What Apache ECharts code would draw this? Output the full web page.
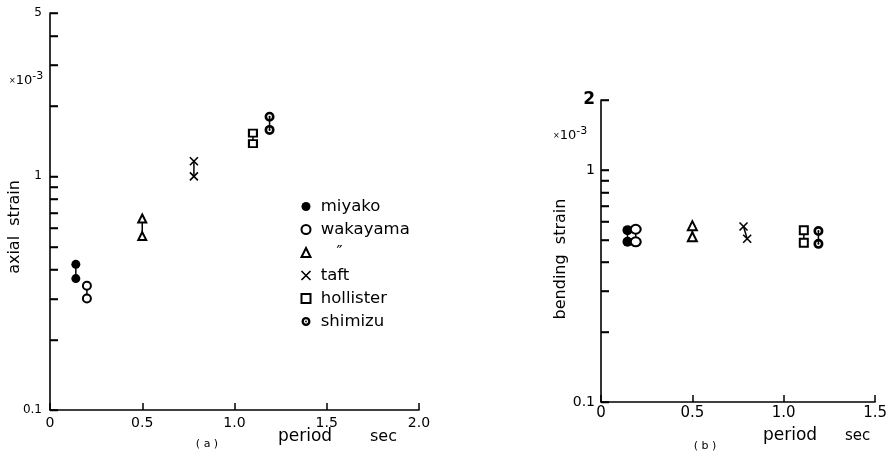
<!DOCTYPE html>
<html>
<head>
<meta charset="utf-8">
<script src="https://cdn.jsdelivr.net/npm/echarts@6/dist/echarts.min.js"></script>
<style>
  html, body { margin: 0; padding: 0; background: #fff; }
  #chart { width: 890px; height: 457px; }
</style>
</head>
<body>
<div id="chart"></div>
<script>
// Records: each station has two peak values (upper / lower) joined by a short bar.
const stations = ['miyako', 'wakayama', '   \u2033', 'taft', 'hollister', 'shimizu'];

// (a) axial strain (×10^-3) against natural period (sec)
const axialPeriod = [0.14, 0.2, 0.5, 0.78, 1.1, 1.19];
const axialUpper  = [0.42, 0.34, 0.66, 1.16, 1.53, 1.80];
const axialLower  = [0.365, 0.30, 0.555, 1.0, 1.38, 1.58];

// (b) bending strain (×10^-3) against natural period (sec)
const bendPeriodUpper = [0.145, 0.19, 0.5, 0.78, 1.11, 1.19];
const bendPeriodLower = [0.145, 0.19, 0.5, 0.80, 1.11, 1.19];
const bendUpper = [0.55, 0.555, 0.575, 0.57, 0.55, 0.545];
const bendLower = [0.49, 0.49, 0.515, 0.505, 0.485, 0.48];

// Axis ticks and labels
const strainTicksA  = [0.1, 0.2, 0.3, 0.4, 0.5, 0.6, 0.7, 0.8, 0.9, 1, 2, 3, 4, 5];
const strainLabelsA = [0.1, 1, 5];
const strainTicksB  = [0.1, 0.2, 0.3, 0.4, 0.5, 0.6, 0.7, 0.8, 0.9, 1, 2];
const strainLabelsB = [0.1, 1, 2];

const FONT = 'DejaVu Sans';
const INK = '#000';

const crossPath = 'path://M0,0L10,10M10,0L0,10';
const dotPath = 'path://M0,5A5,5 0 1,1 10,5A5,5 0 1,1 0,5Z' +
                'M2.6,5A2.4,2.4 0 1,0 7.4,5A2.4,2.4 0 1,0 2.6,5Z' +
                'M4,5A1,1 0 1,1 6,5A1,1 0 1,1 4,5Z';
const symbols = ['circle', 'emptyCircle', 'emptyTriangle', crossPath, 'emptyRect', dotPath];
const sizesA = [9, 8, 8, 8, [8, 7], 10];
const sizesB = [10, [10, 9], 9, 8, [8, 8], 10];

function itemStyleFor(i) {
  if (i === 0) return { color: INK, borderWidth: 0 };
  if (i === 3) return { color: 'none', borderColor: INK, borderWidth: 1.6 };
  if (i === 5) return { color: INK, borderWidth: 0 };
  return { color: INK, borderColor: INK, borderWidth: 1.4 };
}

function pairSeries(gridIdx, xs1, xs2, ys1, ys2, sizes) {
  return stations.map((name, i) => ({
    name: name,
    type: 'line',
    xAxisIndex: gridIdx,
    yAxisIndex: gridIdx,
    data: [[xs1[i], ys1[i]], [xs2[i], ys2[i]]],
    symbol: symbols[i],
    symbolSize: sizes[i],
    showSymbol: true,
    clip: false,
    lineStyle: { color: INK, width: 1.5 },
    itemStyle: itemStyleFor(i),
    emphasis: { disabled: true },
    animation: false,
    z: 3
  }));
}

// Inward ticks on the log strain axis: one compound path, each tick placed through the axis scale
function strainTickSeries(gridIdx, ticks) {
  return {
    type: 'custom',
    xAxisIndex: gridIdx,
    yAxisIndex: gridIdx,
    silent: true,
    clip: false,
    animation: false,
    data: [[0, ticks[0]]],
    renderItem: (params, api) => {
      let d = '';
      ticks.forEach(v => {
        const p = api.coord([0, v]);
        const y = Math.round(p[1]) + 0.5;
        d += 'M' + p[0] + ',' + y + 'L' + (p[0] + 8) + ',' + y;
      });
      return {
        type: 'path',
        shape: { pathData: d },
        style: { stroke: INK, lineWidth: 1.5, fill: null }
      };
    },
    z: 10
  };
}

function periodAxis(gridIdx, max, labelSize, labelMargin) {
  return {
    type: 'value',
    gridIndex: gridIdx,
    min: 0, max: max, interval: 0.5,
    axisLine: { show: true, onZero: false, lineStyle: { color: INK, width: 1.5 } },
    axisTick: { show: true, inside: true, length: 7, lineStyle: { color: INK, width: 1.5 } },
    axisLabel: {
      color: INK, fontFamily: FONT, fontSize: labelSize, margin: labelMargin,
      formatter: v => (v === 0 ? '0' : v.toFixed(1))
    },
    splitLine: { show: false }
  };
}

function strainAxis(gridIdx, max, ticks, labels, labelSize, margin, boldTop) {
  return {
    type: 'log',
    logBase: 10,
    gridIndex: gridIdx,
    min: 0.1, max: max,
    axisLine: { show: true, lineStyle: { color: INK, width: 1.6 } },
    axisTick: { show: true, inside: true, length: 8, customValues: ticks, lineStyle: { color: INK, width: 1.5 } },
    axisLabel: {
      show: true, customValues: labels, color: INK, fontFamily: FONT,
      fontSize: labelSize, margin: margin,
      formatter: v => (boldTop && v === max ? '{top|' + v + '}' : String(v)),
      rich: { top: { fontFamily: FONT, fontSize: 17, fontWeight: 'bold', color: INK } }
    },
    minorTick: { show: false },
    splitLine: { show: false }
  };
}

const supRich = {
  base: { fontFamily: FONT, fontSize: 13, color: INK },
  sup: { fontFamily: FONT, fontSize: 11, color: INK, verticalAlign: 'bottom', padding: [0, 0, 9, 0] },
  mul: { fontFamily: FONT, fontSize: 8, color: INK }
};

const emptyIcon = { color: INK, borderColor: INK, borderWidth: 1.4 };

const chart = echarts.init(document.getElementById('chart'), null, { renderer: 'canvas' });
chart.setOption({
  backgroundColor: '#fff',
  animation: false,
  grid: [
    { left: 50, top: 13, width: 369, height: 397 },
    { left: 601, top: 100, width: 279, height: 302 }
  ],
  xAxis: [periodAxis(0, 2.0, 14, 6), periodAxis(1, 1.5, 15, 4)],
  yAxis: [
    strainAxis(0, 5, strainTicksA, strainLabelsA, 12, 8, false),
    strainAxis(1, 2, strainTicksB, strainLabelsB, 14, 6, true)
  ],
  legend: {
    orient: 'vertical',
    left: 294, top: 193,
    itemWidth: 9, itemHeight: 9,
    itemGap: 6,
    selectedMode: false,
    formatter: name => ' ' + name,
    textStyle: { color: INK, fontFamily: FONT, fontSize: 16.5, lineHeight: 16 },
    data: [
      { name: stations[0], icon: 'circle', itemStyle: { color: INK, borderWidth: 0 } },
      { name: stations[1], icon: 'emptyCircle', itemStyle: emptyIcon },
      { name: stations[2], icon: 'emptyTriangle', itemStyle: emptyIcon },
      { name: stations[3], icon: crossPath, itemStyle: { color: 'none', borderColor: INK, borderWidth: 1.6 } },
      { name: stations[4], icon: 'emptyRect', itemStyle: emptyIcon },
      { name: stations[5], icon: dotPath, itemStyle: { color: INK, borderWidth: 0 } }
    ]
  },
  graphic: [
    { type: 'text', x: 15, y: 227, rotation: Math.PI / 2, style: { text: 'axial  strain', fontFamily: FONT, fontSize: 16, fill: INK, align: 'center', verticalAlign: 'middle' } },
    { type: 'text', x: 561, y: 259, rotation: Math.PI / 2, style: { text: 'bending  strain', fontFamily: FONT, fontSize: 16, fill: INK, align: 'center', verticalAlign: 'middle' } },
    { type: 'text', x: 9, y: 81, style: { text: '{mul|\u00d7}{base|10}{sup|-3}', rich: supRich, verticalAlign: 'middle' } },
    { type: 'text', x: 553, y: 136, style: { text: '{mul|\u00d7}{base|10}{sup|-3}', rich: supRich, verticalAlign: 'middle' } },
    { type: 'text', x: 278, y: 437, style: { text: 'period', fontFamily: FONT, fontSize: 17, fill: INK, verticalAlign: 'middle' } },
    { type: 'text', x: 370, y: 437, style: { text: 'sec', fontFamily: FONT, fontSize: 16, fill: INK, verticalAlign: 'middle' } },
    { type: 'text', x: 207, y: 444, style: { text: '( a )', fontFamily: FONT, fontSize: 11, fill: INK, align: 'center', verticalAlign: 'middle' } },
    { type: 'text', x: 763, y: 436, style: { text: 'period', fontFamily: FONT, fontSize: 17, fill: INK, verticalAlign: 'middle' } },
    { type: 'text', x: 845, y: 436, style: { text: 'sec', fontFamily: FONT, fontSize: 15, fill: INK, verticalAlign: 'middle' } },
    { type: 'text', x: 705, y: 446, style: { text: '( b )', fontFamily: FONT, fontSize: 11, fill: INK, align: 'center', verticalAlign: 'middle' } }
  ],
  series: [
    ...pairSeries(0, axialPeriod, axialPeriod, axialUpper, axialLower, sizesA),
    ...pairSeries(1, bendPeriodUpper, bendPeriodLower, bendUpper, bendLower, sizesB),
    strainTickSeries(0, strainTicksA),
    strainTickSeries(1, strainTicksB)
  ]
});
</script>
</body>
</html>
